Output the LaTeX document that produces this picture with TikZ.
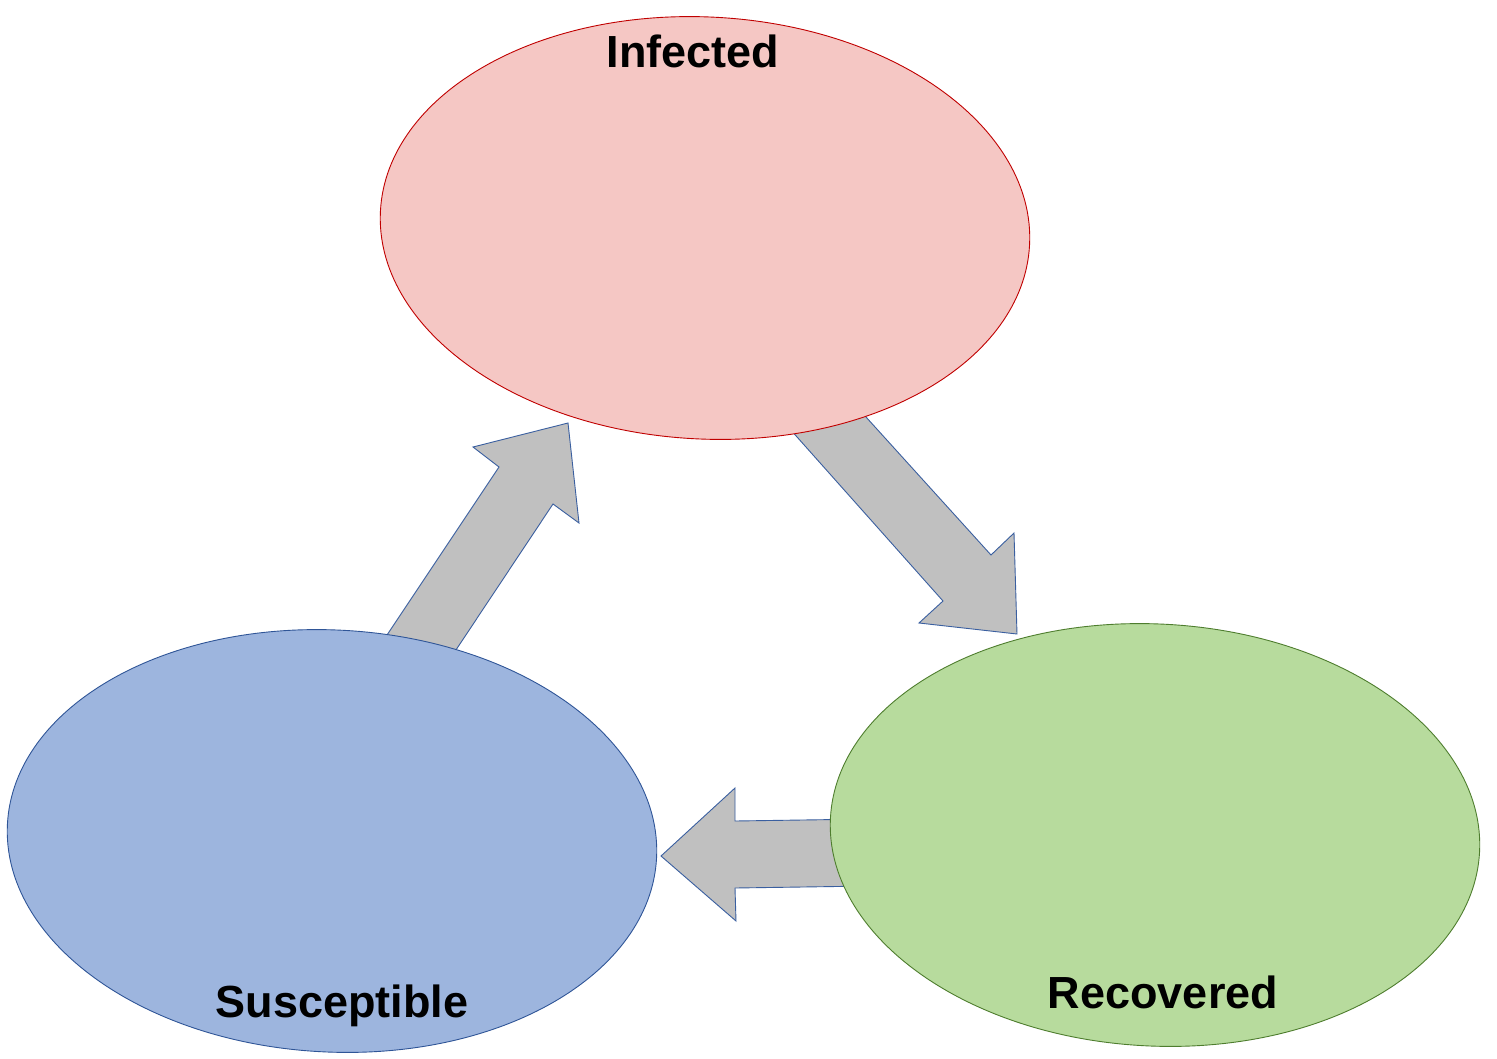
\documentclass[tikz,border=0pt]{standalone}
\usepackage{fontspec}
\setmainfont{Liberation Sans}
\usetikzlibrary{shapes.geometric}
\definecolor{infFill}{HTML}{F5C7C4}
\definecolor{infLine}{HTML}{C00000}
\definecolor{susFill}{HTML}{9DB5DE}
\definecolor{susLine}{HTML}{2F5597}
\definecolor{recFill}{HTML}{B7DB9D}
\definecolor{recLine}{HTML}{4E7D2E}
\definecolor{arrFill}{HTML}{C0C0C0}
\definecolor{arrLine}{HTML}{3A5FA0}
\tikzset{
  blob/.style={ellipse, inner sep=0pt, outer sep=0pt, minimum width=650pt, minimum height=422pt, rotate=-3, line width=0.9pt},
  blockarrow/.style={fill=arrFill, draw=arrLine, line width=0.9pt, line join=miter},
  label/.style={font=\fontsize{45}{54}\selectfont\bfseries, anchor=base, inner sep=0pt}
}
\begin{document}
\begin{tikzpicture}[x=1pt,y=-1pt]
\useasboundingbox (0,0) rectangle (1497,1058);
% block arrows (behind the ellipses)
\draw[blockarrow] (355,683) -- (499,467) -- (473,447) -- (568,423) -- (579,523) -- (553,504) -- (424,698) -- cycle;
\draw[blockarrow] (765,401) -- (943,601) -- (919,623) -- (1017,634) -- (1014,533) -- (991,555) -- (837,385) -- cycle;
\draw[blockarrow] (870,819) -- (735,821) -- (735,788) -- (661,856) -- (736,921) -- (735,888) -- (870,886) -- cycle;
% compartments
\node[blob, fill=infFill, draw=infLine] (inf) at (705,228) {};
\node[blob, fill=susFill, draw=susLine] (sus) at (332,841) {};
\node[blob, fill=recFill, draw=recLine] (rec) at (1155,835) {};
% labels
\node[label] (tinf) at (693,67) {Infected};
\node[label] (tsus) at (342,1017) {Susceptible};
\node[label] (trec) at (1163,1008) {Recovered};
\end{tikzpicture}
\end{document}
